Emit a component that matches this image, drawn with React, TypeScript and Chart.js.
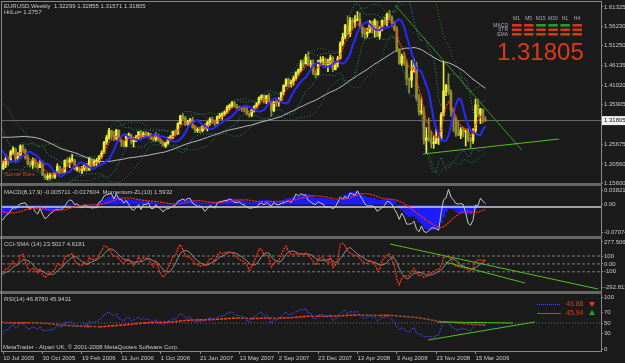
import React, { useEffect, useRef } from "react";
import { Chart, registerables } from "chart.js";

Chart.register(...registerables);

const FONT = "'Liberation Sans', Arial, sans-serif";
const BG = "#1b1b1b";
const TXT = "#c8c8c8";
const AXIS = "#8a8a8a";

// ---------------- data ----------------
// weekly closes before the first visible bar (Jul 2004 - Jul 2005), used only to warm up indicators
const PRE_CLOSE = [
  1.232, 1.24, 1.218, 1.205, 1.228, 1.23, 1.219, 1.206, 1.212, 1.226, 1.217, 1.229, 1.242,
  1.233, 1.239, 1.253, 1.273, 1.285, 1.295, 1.306, 1.328, 1.331, 1.338, 1.331, 1.357, 1.362,
  1.319, 1.313, 1.306, 1.303, 1.302, 1.292, 1.301, 1.325, 1.327, 1.34, 1.339, 1.298,
  1.298, 1.306, 1.291, 1.293, 1.292, 1.281, 1.265, 1.262, 1.25, 1.226, 1.218, 1.229, 1.215, 1.193,
];

// visible weekly bars, 10 Jul 2005 ... Apr 2009
const CLOSE = [
  1.204, 1.219, 1.215, 1.237, 1.245, 1.219, 1.228, 1.252, 1.241, 1.221,
  1.206, 1.203, 1.215, 1.205, 1.196, 1.211, 1.177, 1.17, 1.173, 1.176,
  1.171, 1.182, 1.199, 1.187, 1.184, 1.215, 1.21, 1.216, 1.216, 1.192,
  1.192, 1.189, 1.193, 1.204, 1.19, 1.217, 1.203, 1.212, 1.212, 1.225,
  1.234, 1.262, 1.275, 1.292, 1.28, 1.272, 1.293, 1.266, 1.263, 1.252,
  1.28, 1.281, 1.263, 1.268, 1.276, 1.289, 1.275, 1.285, 1.28, 1.283,
  1.271, 1.269, 1.281, 1.268, 1.262, 1.253, 1.26, 1.273, 1.276, 1.29,
  1.284, 1.31, 1.33, 1.325, 1.309, 1.314, 1.32, 1.3, 1.292, 1.295,
  1.292, 1.303, 1.298, 1.313, 1.321, 1.317, 1.312, 1.328, 1.331, 1.336,
  1.34, 1.352, 1.357, 1.364, 1.355, 1.352, 1.351, 1.348, 1.347, 1.336,
  1.332, 1.345, 1.354, 1.362, 1.378, 1.383, 1.368, 1.382, 1.367, 1.344,
  1.366, 1.364, 1.371, 1.39, 1.41, 1.425, 1.414, 1.417, 1.428, 1.443,
  1.451, 1.466, 1.465, 1.483, 1.463, 1.466, 1.441, 1.437, 1.472, 1.475,
  1.476, 1.463, 1.468, 1.482, 1.45, 1.467, 1.48, 1.518, 1.535, 1.565,
  1.543, 1.579, 1.574, 1.579, 1.582, 1.561, 1.545, 1.543, 1.547, 1.574,
  1.555, 1.577, 1.537, 1.557, 1.578, 1.573, 1.594, 1.587, 1.571, 1.555,
  1.501, 1.467, 1.485, 1.467, 1.427, 1.423, 1.446, 1.461, 1.377, 1.34,
  1.341, 1.267, 1.273, 1.272, 1.259, 1.259, 1.269, 1.271, 1.332, 1.395,
  1.409, 1.392, 1.345, 1.323, 1.284, 1.28, 1.294, 1.289, 1.29, 1.267,
  1.266, 1.292, 1.359, 1.335, 1.348, 1.322, 1.31805,
];
const HIGH = [
  1.213, 1.23, 1.223, 1.241, 1.25, 1.245, 1.235, 1.255, 1.256, 1.245,
  1.229, 1.212, 1.221, 1.219, 1.21, 1.217, 1.213, 1.18, 1.18, 1.182,
  1.182, 1.185, 1.206, 1.2, 1.193, 1.216, 1.221, 1.222, 1.23, 1.217,
  1.198, 1.197, 1.199, 1.207, 1.208, 1.222, 1.219, 1.216, 1.22, 1.227,
  1.24, 1.264, 1.28, 1.298, 1.293, 1.29, 1.295, 1.294, 1.269, 1.266,
  1.282, 1.286, 1.283, 1.274, 1.28, 1.29, 1.293, 1.289, 1.29, 1.287,
  1.285, 1.275, 1.286, 1.283, 1.271, 1.265, 1.262, 1.275, 1.28, 1.291,
  1.293, 1.313, 1.332, 1.337, 1.329, 1.319, 1.324, 1.327, 1.305, 1.3,
  1.301, 1.307, 1.31, 1.316, 1.325, 1.327, 1.32, 1.33, 1.337, 1.338,
  1.343, 1.357, 1.361, 1.368, 1.368, 1.36, 1.355, 1.352, 1.353, 1.355,
  1.338, 1.348, 1.357, 1.365, 1.38, 1.385, 1.385, 1.384, 1.388, 1.371,
  1.368, 1.372, 1.378, 1.392, 1.411, 1.427, 1.428, 1.423, 1.434, 1.445,
  1.452, 1.475, 1.475, 1.49, 1.497, 1.475, 1.476, 1.447, 1.475, 1.484,
  1.484, 1.481, 1.478, 1.488, 1.484, 1.471, 1.485, 1.523, 1.545, 1.568,
  1.59, 1.586, 1.584, 1.591, 1.601, 1.598, 1.567, 1.558, 1.558, 1.578,
  1.577, 1.582, 1.575, 1.562, 1.58, 1.587, 1.597, 1.604, 1.59, 1.575,
  1.562, 1.505, 1.491, 1.493, 1.476, 1.429, 1.474, 1.478, 1.47, 1.386,
  1.377, 1.354, 1.3, 1.325, 1.29, 1.278, 1.297, 1.282, 1.339, 1.472,
  1.412, 1.44, 1.398, 1.35, 1.33, 1.318, 1.3, 1.3, 1.294, 1.297,
  1.275, 1.297, 1.374, 1.374, 1.35, 1.336, 1.32855,
];
const LOW = [
  1.191, 1.196, 1.201, 1.21, 1.23, 1.214, 1.212, 1.22, 1.236, 1.218,
  1.203, 1.198, 1.194, 1.197, 1.192, 1.196, 1.175, 1.165, 1.164, 1.166,
  1.167, 1.168, 1.18, 1.18, 1.181, 1.18, 1.199, 1.196, 1.211, 1.19,
  1.187, 1.183, 1.18, 1.187, 1.187, 1.189, 1.198, 1.2, 1.201, 1.208,
  1.22, 1.232, 1.256, 1.269, 1.27, 1.266, 1.268, 1.264, 1.251, 1.249,
  1.25, 1.272, 1.257, 1.25, 1.263, 1.27, 1.27, 1.273, 1.276, 1.275,
  1.268, 1.264, 1.265, 1.265, 1.258, 1.251, 1.248, 1.256, 1.268, 1.271,
  1.279, 1.282, 1.308, 1.318, 1.305, 1.306, 1.308, 1.298, 1.287, 1.287,
  1.286, 1.288, 1.294, 1.291, 1.306, 1.31, 1.305, 1.31, 1.323, 1.321,
  1.331, 1.337, 1.346, 1.352, 1.353, 1.348, 1.345, 1.342, 1.34, 1.332,
  1.327, 1.328, 1.34, 1.35, 1.36, 1.372, 1.363, 1.362, 1.364, 1.33,
  1.341, 1.355, 1.355, 1.371, 1.385, 1.406, 1.406, 1.405, 1.41, 1.423,
  1.436, 1.445, 1.456, 1.465, 1.46, 1.456, 1.437, 1.429, 1.436, 1.461,
  1.463, 1.456, 1.445, 1.46, 1.445, 1.45, 1.457, 1.478, 1.512, 1.53,
  1.54, 1.536, 1.555, 1.56, 1.577, 1.558, 1.535, 1.53, 1.534, 1.548,
  1.545, 1.535, 1.536, 1.53, 1.551, 1.566, 1.563, 1.58, 1.561, 1.551,
  1.497, 1.464, 1.461, 1.462, 1.41, 1.39, 1.404, 1.444, 1.371, 1.332,
  1.334, 1.257, 1.233, 1.264, 1.247, 1.246, 1.259, 1.256, 1.27, 1.33,
  1.383, 1.385, 1.329, 1.29, 1.277, 1.279, 1.271, 1.276, 1.252, 1.263,
  1.247, 1.259, 1.287, 1.328, 1.31, 1.312, 1.31571,
];

const X_TICK_LABELS = [
  "10 Jul 2005", "30 Oct 2005", "19 Feb 2006", "11 Jun 2006", "1 Oct 2006", "21 Jan 2007",
  "13 May 2007", "2 Sep 2007", "23 Dec 2007", "13 Apr 2008", "3 Aug 2008", "23 Nov 2008", "15 Mar 2009",
];
const X_TICK_STEP = 16;

const PRICE_TICKS = [1.61325, 1.5623, 1.5125, 1.46135, 1.4102, 1.35905, 1.25675, 1.2056, 1.156];
const MACD_TICKS = [0.038217, 0, -0.07074];
const MACD_TICK_LABELS = ["0.038217", "0.00", "-0.07074"];
const CCI_TICKS = [277.5063, 100, 0, -100, -292.813];
const CCI_TICK_LABELS = ["277.5063", "100", "0.00", "-100", "-292.813"];
const RSI_TICKS = [100, 70, 50, 30, 0];
const CCI_LEVELS = [100, 0, -100];
const RSI_LEVELS = [50];

const CURRENT_PRICE = 1.31805;
const HEADER_TEXT = "EURUSD,Weekly  1.32299 1.32855 1.31571 1.31805";
const HILO_TEXT = "Hi/Lo= 1.2757";
const SONAR_TEXT = "Sonar Bars";
const BIG_PRICE = "1.31805";
const TF_LABELS = ["M1", "M5", "M15", "M30", "H1", "H4"];
const SIGNAL_ROWS = ["MACD", "STR", "EMA"];
const SIGNAL_UP = [
  [0, 0, 1, 1, 1, 0],
  [0, 0, 0, 0, 0, 0],
  [0, 0, 0, 0, 0, 0],
];
const MACD_TEXT = "MACD(8,17,9) -0.005711 -0.017604  Momentum-ZL(10) 1.5932";
const CCI_TEXT = "CCI-SMA (14) 23.5017 4.6181";
const RSI_TEXT = "RSI(14) 46.8780 45.9431";
const RSI_LEGEND = ["46.88", "45.94"];
const FOOTER_TEXT = "MetaTrader - Alpari UK, \u00a9 2001-2008 MetaQuotes Software Corp.";

// hand-drawn trend lines (week index, value)
const TREND_PRICE_A = [{ x: 170.6, y: 1.2313 }, { x: 225.9, y: 1.2702 }];
const TREND_PRICE_B = [{ x: 159.3, y: 1.618 }, { x: 210.8, y: 1.2416 }];
const TREND_CCI_A = [{ x: 157.2, y: 252 }, { x: 241.8, y: -318 }];
const TREND_CCI_B = [{ x: 179.6, y: 24 }, { x: 212.1, y: -242 }];
const TREND_RSI_A = [{ x: 172.7, y: 17.3 }, { x: 216.2, y: 52 }];
const TREND_RSI_B = [{ x: 176.7, y: 52 }, { x: 207.2, y: 50 }];

// ---------------- layout ----------------
const W = 625;
const AXIS_W = 24;
const X_MIN = -0.5;
const X_MAX = 243;

// ---------------- indicator helpers ----------------
const P = PRE_CLOSE.length;
const LAST = CLOSE.length - 1;
const FULL_C = [...PRE_CLOSE, ...CLOSE];
const FULL_H = [...PRE_CLOSE, ...HIGH];
const FULL_L = [...PRE_CLOSE, ...LOW];
const OPEN = CLOSE.map((_, i) => FULL_C[P + i - 1]);

function sma(a: number[], n: number) {
  const out: number[] = [];
  let s = 0;
  for (let j = 0; j < a.length; j++) {
    s += a[j];
    if (j >= n) s -= a[j - n];
    out.push(s / Math.min(j + 1, n));
  }
  return out;
}
function ema(a: number[], n: number) {
  const k = 2 / (n + 1);
  const out: number[] = [];
  a.forEach((v, j) => out.push(j === 0 ? v : out[j - 1] + k * (v - out[j - 1])));
  return out;
}
function stdev(a: number[], n: number, m: number[]) {
  return a.map((_, j) => {
    const s = Math.max(0, j - n + 1);
    let v = 0;
    for (let k = s; k <= j; k++) v += (a[k] - m[j]) ** 2;
    return Math.sqrt(v / (j - s + 1));
  });
}
function rsi(a: number[], n: number) {
  const out = [50];
  let ag = 0, al = 0;
  for (let j = 1; j < a.length; j++) {
    const d = a[j] - a[j - 1];
    const g = Math.max(d, 0), l = Math.max(-d, 0);
    if (j <= n) { ag += g / n; al += l / n; } else { ag = (ag * (n - 1) + g) / n; al = (al * (n - 1) + l) / n; }
    out.push(al === 0 ? 100 : 100 - 100 / (1 + ag / al));
  }
  return out;
}
function cci(h: number[], l: number[], c: number[], n: number) {
  const tp = c.map((v, j) => (h[j] + l[j] + v) / 3);
  const m = sma(tp, n);
  return tp.map((v, j) => {
    const s = Math.max(0, j - n + 1);
    let md = 0;
    for (let k = s; k <= j; k++) md += Math.abs(tp[k] - m[j]);
    md /= j - s + 1;
    return md === 0 ? 0 : (v - m[j]) / (0.015 * md);
  });
}
const pts = (a: number[], shift = 0, from = -30) =>
  a.map((v, j) => ({ x: j - P + shift, y: v })).filter((p) => p.x >= from && p.x <= LAST && isFinite(p.y));

// main-chart indicators
const maRed = ema(FULL_C, 5);
const maBlue = sma(FULL_C, 5);
const maWhite = sma(FULL_C, 50);
const bbMidA = sma(FULL_C, 20);
const bbSdA = stdev(FULL_C, 20, bbMidA);
const bbMidB = sma(FULL_C, 10);
const bbSdB = stdev(FULL_C, 10, bbMidB);
// MACD window
const ema8 = ema(FULL_C, 8);
const ema17 = ema(FULL_C, 17);
const macd = ema8.map((v, j) => v - ema17[j]);
const macdSig = sma(macd, 9);
const mom = FULL_C.map((v, j) => (j >= 10 ? (v / FULL_C[j - 10]) * 100 - 100 : NaN));
// CCI window
const cciV = cci(FULL_H, FULL_L, FULL_C, 14);
const cciS = sma(cciV, 5);
// RSI window
const rsiV = rsi(FULL_C, 14);
const rsiMa = sma(rsiV, 55);

// ---------------- chart config helpers ----------------
const font = (size: number) => ({ family: FONT, size });

function yScale(min: number, max: number, ticks: number[], labels: string[]) {
  return {
    type: "linear",
    position: "right",
    min,
    max,
    afterFit: (s: any) => { s.width = AXIS_W; s.paddingTop = 0; s.paddingBottom = 0; },
    afterBuildTicks: (s: any) => { s.ticks = ticks.map((v) => ({ value: v })); },
    ticks: { autoSkip: false, padding: 1, color: TXT, font: font(6), callback: (_v: any, i: number) => labels[i] },
    grid: { drawOnChartArea: false, drawTicks: true, tickLength: 2, color: AXIS },
    border: { display: true, color: AXIS, width: 1 },
  };
}
const xHidden = { type: "linear", min: X_MIN, max: X_MAX, offset: false, display: false };
const xBottom = {
  type: "linear",
  min: X_MIN,
  max: X_MAX,
  offset: false,
  position: "bottom",
  afterBuildTicks: (s: any) => { s.ticks = X_TICK_LABELS.map((_, k) => ({ value: k * X_TICK_STEP })); },
  afterFit: (s: any) => { s.height = 12; s.paddingLeft = 0; s.paddingRight = 0; },
  ticks: {
    autoSkip: false, maxRotation: 0, minRotation: 0, align: "start", padding: 1, color: TXT, font: font(6),
    callback: (v: number) => X_TICK_LABELS[Math.round(v / X_TICK_STEP)] ?? "",
  },
  grid: { drawOnChartArea: false, drawTicks: true, tickLength: 3, color: AXIS },
  border: { display: true, color: AXIS, width: 1 },
};
function base(padding: any, overlay: (ctx: CanvasRenderingContext2D, chart: any) => void) {
  return {
    options: {
      responsive: false,
      maintainAspectRatio: false,
      animation: false,
      devicePixelRatio: 1,
      events: [],
      layout: { padding },
      plugins: { legend: { display: false }, tooltip: { enabled: false } },
    },
    plugins: [{ id: "overlay", afterDraw(chart: any) { const c = chart.ctx; c.save(); overlay(c, chart); c.restore(); } }],
  };
}
function line(data: any[], color: any, width: number, extra: any = {}) {
  return {
    type: "line", data, borderColor: color, borderWidth: width, pointRadius: 0, fill: false,
    tension: 0, spanGaps: true, clip: 0, ...extra,
  };
}
const hline = (y: number) => [{ x: X_MIN, y }, { x: X_MAX, y }];
const GREEN_TL = "#52c21e";

function text(ctx: CanvasRenderingContext2D, s: string, x: number, y: number, color = TXT, size = 6) {
  ctx.font = `${size}px ${FONT}`;
  ctx.fillStyle = color;
  ctx.textBaseline = "middle";
  ctx.textAlign = "left";
  ctx.fillText(s, x, y);
}

// ---------------- charts ----------------
function mainConfig() {
  const BULL = "#eeee3c";
  const BEAR = "#8f8f32";
  const b = base({ left: 2, right: 0, top: 2, bottom: 3 }, (ctx, chart) => {
    text(ctx, HEADER_TEXT, 4, 6);
    text(ctx, HILO_TEXT, 4, 12);
    text(ctx, SONAR_TEXT, 5, 174, "#d8341c");
    // timeframe signal grid
    TF_LABELS.forEach((lab, c) => {
      const x = 512 + c * 12.1;
      ctx.font = `5px ${FONT}`;
      ctx.fillStyle = "#a8a8c0";
      ctx.textAlign = "center";
      ctx.textBaseline = "middle";
      ctx.fillText(lab, x + 4.5, 19);
      SIGNAL_ROWS.forEach((_, r) => {
        ctx.fillStyle = SIGNAL_UP[r][c] ? "#23a023" : "#d4381c";
        ctx.fillRect(x, 24 + r * 4.5, 9.5, 2.6);
      });
    });
    SIGNAL_ROWS.forEach((lab, r) => {
      ctx.font = `5px ${FONT}`;
      ctx.fillStyle = "#a8a8c0";
      ctx.textAlign = "right";
      ctx.textBaseline = "middle";
      ctx.fillText(lab, 508, 25.5 + r * 4.5);
    });
    ctx.font = `24px ${FONT}`;
    ctx.fillStyle = "#dc3a1c";
    ctx.textAlign = "left";
    ctx.textBaseline = "alphabetic";
    ctx.fillText(BIG_PRICE, 497, 60);
    // current price marker on the axis
    const y = chart.scales.y.getPixelForValue(CURRENT_PRICE);
    ctx.fillStyle = "#f2f2f2";
    ctx.fillRect(602, y - 4.5, 23, 9);
    text(ctx, CURRENT_PRICE.toFixed(5), 604, y, "#111111");
  });
  return {
    type: "line",
    data: {
      datasets: [
        line(hline(CURRENT_PRICE), "#6c6c6c", 1, { order: 20 }),
        line(pts(bbMidA.map((m, j) => m + 2 * bbSdA[j])), "#238c23", 1, { borderDash: [1, 2], order: 15 }),
        line(pts(bbMidA.map((m, j) => m - 2 * bbSdA[j])), "#238c23", 1, { borderDash: [1, 2], order: 15 }),
        line(pts(bbMidB.map((m, j) => m + 2 * bbSdB[j])), "#1e9c9c", 1, { borderDash: [1, 2], order: 15 }),
        line(pts(bbMidB.map((m, j) => m - 2 * bbSdB[j])), "#1e9c9c", 1, { borderDash: [1, 2], order: 15 }),
        line(pts(maWhite), "#bdbdbd", 1, { order: 14 }),
        {
          type: "bar", data: CLOSE.map((_, i) => ({ x: i, y: [LOW[i], HIGH[i]] })),
          backgroundColor: (c: any) => (CLOSE[c.dataIndex] >= OPEN[c.dataIndex] ? BULL : BEAR),
          barThickness: 1, grouped: false, order: 12,
        },
        {
          type: "bar", data: CLOSE.map((c, i) => ({ x: i, y: [OPEN[i], c] })),
          backgroundColor: (c: any) => (CLOSE[c.dataIndex] >= OPEN[c.dataIndex] ? BULL : BEAR),
          barThickness: 2, minBarLength: 1, grouped: false, order: 11,
        },
        line(pts(maBlue, 3), "#2a2aff", 2, { order: 4 }),
        line(pts(maRed), "#ff3a12", 1.3, { borderDash: [2, 1], order: 3 }),
        line(TREND_PRICE_A, GREEN_TL, 1, { order: 1 }),
        line(TREND_PRICE_B, "#2f9a1e", 1, { order: 1 }),
      ],
    },
    options: {
      ...b.options,
      scales: { x: xHidden, y: yScale(1.156, 1.626, PRICE_TICKS, PRICE_TICKS.map((v) => v.toFixed(5))) },
    },
    plugins: b.plugins,
  };
}

function macdConfig() {
  const vis = mom.slice(P, P + LAST + 1);
  const mn = Math.min(...vis), mx = Math.max(...vis);
  const pad = (mx - mn) * 0.08;
  const b = base({ left: 2, right: 0, top: 0, bottom: 0 }, (ctx) => {
    text(ctx, MACD_TEXT, 4, 6);
  });
  return {
    type: "line",
    data: {
      datasets: [
        {
          type: "bar", data: pts(macd, 0, 0), backgroundColor: "#1c1cff", borderWidth: 0,
          barPercentage: 1, categoryPercentage: 1, grouped: false, order: 5,
        },
        line(hline(0), "#d0d0d0", 1.5, { yAxisID: "ym", order: 3 }),
        line(pts(mom), "#c8c8c8", 1, { yAxisID: "ym", order: 2 }),
        line(pts(macdSig), "#ff2a08", 1.3, { borderDash: [2, 1], order: 1 }),
      ],
    },
    options: {
      ...b.options,
      scales: {
        x: xHidden,
        y: yScale(-0.0811, 0.0486, MACD_TICKS, MACD_TICK_LABELS),
        ym: { type: "linear", display: false, min: mn - pad, max: mx + pad },
      },
    },
    plugins: b.plugins,
  };
}

function cciConfig() {
  const b = base({ left: 2, right: 0, top: 0, bottom: 0 }, (ctx) => {
    text(ctx, CCI_TEXT, 4, 5);
  });
  return {
    type: "line",
    data: {
      datasets: [
        ...CCI_LEVELS.map((v) => line(hline(v), "#7a7a7a", 1, { borderDash: [3, 2], order: 9 })),
        line(pts(cciS), "#8e8e8e", 1, { order: 3 }),
        line(pts(cciV), "#ff3414", 1.3, { borderDash: [2, 1], order: 2 }),
        line(TREND_CCI_A, GREEN_TL, 1, { order: 1 }),
        line(TREND_CCI_B, GREEN_TL, 1, { order: 1 }),
      ],
    },
    options: { ...b.options, scales: { x: xHidden, y: yScale(-343.5, 315.5, CCI_TICKS, CCI_TICK_LABELS) } },
    plugins: b.plugins,
  };
}

function rsiConfig() {
  const b = base({ left: 2, right: 0, top: 0, bottom: 0 }, (ctx) => {
    text(ctx, RSI_TEXT, 4, 5);
    text(ctx, FOOTER_TEXT, 3, 53);
    // legend rows
    const rows = [
      { y: 10, color: "#4646ff", dash: [1, 1], val: RSI_LEGEND[0], up: false },
      { y: 19, color: "#d8401c", dash: [], val: RSI_LEGEND[1], up: true },
    ];
    rows.forEach((r) => {
      ctx.strokeStyle = r.color;
      ctx.lineWidth = 1;
      ctx.setLineDash(r.dash);
      ctx.beginPath();
      ctx.moveTo(537, r.y + 0.5);
      ctx.lineTo(561, r.y + 0.5);
      ctx.stroke();
      ctx.setLineDash([]);
      text(ctx, r.val, 566, r.y, "#e0381c", 7);
      ctx.fillStyle = r.up ? "#22a822" : "#e0381c";
      ctx.beginPath();
      if (r.up) { ctx.moveTo(592, r.y - 3); ctx.lineTo(595, r.y + 2); ctx.lineTo(589, r.y + 2); }
      else { ctx.moveTo(589, r.y - 2); ctx.lineTo(595, r.y - 2); ctx.lineTo(592, r.y + 3); }
      ctx.closePath();
      ctx.fill();
    });
  });
  const rsiMaPts = pts(rsiMa);
  return {
    type: "line",
    data: {
      datasets: [
        ...RSI_LEVELS.map((v) => line(hline(v), "#6e6e6e", 1, { borderDash: [1, 2], order: 9 })),
        line(rsiMaPts, "#e0401a", 1.6, {
          order: 3,
          borderDash: [3, 1],
          segment: { borderColor: (c: any) => (c.p1.parsed.y >= c.p0.parsed.y ? "#ff3a10" : "#9a4a28") },
        }),
        line(pts(rsiV), "#4646ff", 1, { borderDash: [2, 1], order: 2 }),
        line(TREND_RSI_A, GREEN_TL, 1, { order: 1 }),
        line(TREND_RSI_B, GREEN_TL, 1, { order: 1 }),
      ],
    },
    options: { ...b.options, scales: { x: xBottom, y: yScale(-3.8, 105.8, RSI_TICKS, RSI_TICKS.map(String)) } },
    plugins: b.plugins,
  };
}

const SEP = "#676767";

export default function App() {
  const rMain = useRef<HTMLCanvasElement>(null);
  const rMacd = useRef<HTMLCanvasElement>(null);
  const rCci = useRef<HTMLCanvasElement>(null);
  const rRsi = useRef<HTMLCanvasElement>(null);

  useEffect(() => {
    const charts = [
      new Chart(rMain.current as HTMLCanvasElement, mainConfig() as any),
      new Chart(rMacd.current as HTMLCanvasElement, macdConfig() as any),
      new Chart(rCci.current as HTMLCanvasElement, cciConfig() as any),
      new Chart(rRsi.current as HTMLCanvasElement, rsiConfig() as any),
    ];
    return () => charts.forEach((c) => c.destroy());
  }, []);

  const abs = (top: number): React.CSSProperties => ({ position: "absolute", left: 0, top, display: "block" });
  const bar = (top: number, h: number, left = 0, width = 602, color = SEP): React.CSSProperties => ({
    position: "absolute", left, top, width, height: h, background: color,
  });

  return (
    <div style={{ position: "fixed", left: 0, top: 0, width: W, height: 363, background: BG, overflow: "hidden" }}>
      <canvas ref={rMain} width={W} height={186} style={abs(0)} />
      <canvas ref={rMacd} width={W} height={50} style={abs(186)} />
      <canvas ref={rCci} width={W} height={52} style={abs(239)} />
      <canvas ref={rRsi} width={W} height={69} style={abs(294)} />
      <div style={bar(183, 3)} />
      <div style={bar(236, 3)} />
      <div style={bar(291, 3)} />
      <div style={bar(1, 1, 1, 601, AXIS)} />
      <div style={bar(1, 351, 1, 1, AXIS)} />
    </div>
  );
}
